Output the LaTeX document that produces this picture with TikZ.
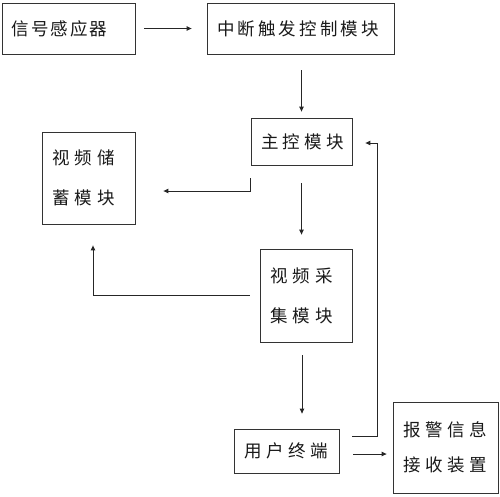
\documentclass[tikz,border=0pt]{standalone}
\usepackage{fontspec}
\usetikzlibrary{arrows.meta}
\newfontfamily\cjk{Noto Sans CJK SC}
\newcommand{\cjksp}[2]{\cjk\addfontfeature{LetterSpace=#1}\fontsize{17.5}{#2}\selectfont}
\begin{document}
\begin{tikzpicture}[x=1pt,y=-1pt,
		box/.style={draw=black!80,line width=0.8pt,text=black!90,inner xsep=10pt,inner ysep=0pt,align=left},
		arr/.style={draw=black!85,line width=0.9pt,-{Triangle[length=5pt,width=4.5pt]}}]
		\useasboundingbox (0,0) rectangle (500,496);
		% blocks
		\node[box,font=\cjksp{11}{20},text width=113pt,minimum height=51pt] (sensor) at (68.5,28.5) {信号感应器};
		\node[box,font=\cjksp{18}{20},text width=167pt,minimum height=51pt,xshift=4pt] (trigger) at (296.5,28.5) {中断触发控制模块};
		\node[box,font=\cjksp{24}{20},text width=81pt,minimum height=47pt] (mainctl) at (301.5,141.5) {主控模块};
		\node[box,font=\cjksp{31}{40},text width=73pt,minimum height=92pt] (storage) at (88.5,178) {视频储\\蓄模块};
		\node[box,font=\cjksp{31}{40},text width=72pt,minimum height=93pt] (capture) at (306,295.5) {视频采\\集模块};
		\node[box,font=\cjksp{26}{20},text width=85pt,minimum height=44pt,inner xsep=10pt] (terminal) at (286.5,451) {用户终端};
		\node[box,font=\cjksp{27}{35},text width=85pt,minimum height=91pt] (alarm) at (445.5,447.5) {报警信息\\接收装置};
		% connectors
		\draw[arr] ([xshift=9pt]sensor.east) -- ([xshift=-15pt]trigger.west);
		\draw[arr] ([yshift=-16pt]trigger.south -| mainctl.north) -- ([yshift=6pt]mainctl.north);
		\draw[arr] ([yshift=-13pt]mainctl.south west) |- ([xshift=28pt,yshift=-13pt]storage.east);
		\draw[arr] ([yshift=-18pt]mainctl.south) -- ([yshift=14pt]mainctl.south |- capture.north);
		\draw[arr] ([xshift=-10pt]capture.west) -| ([xshift=4.5pt,yshift=-21pt]storage.south);
		\draw[arr] ([xshift=-4pt,yshift=-13pt]capture.south) -- ([xshift=15.5pt,yshift=15pt]terminal.north);
		\coordinate (fb) at (377,143);
		\draw[arr] ([xshift=13pt,yshift=15pt]terminal.east) -| (fb) -- ([xshift=13pt,yshift=-1.5pt]mainctl.east);
		\draw[arr] ([xshift=14pt,yshift=-3pt]terminal.east) -- ([xshift=-6pt,yshift=-6.5pt]alarm.west);
		\end{tikzpicture}
\end{document}
